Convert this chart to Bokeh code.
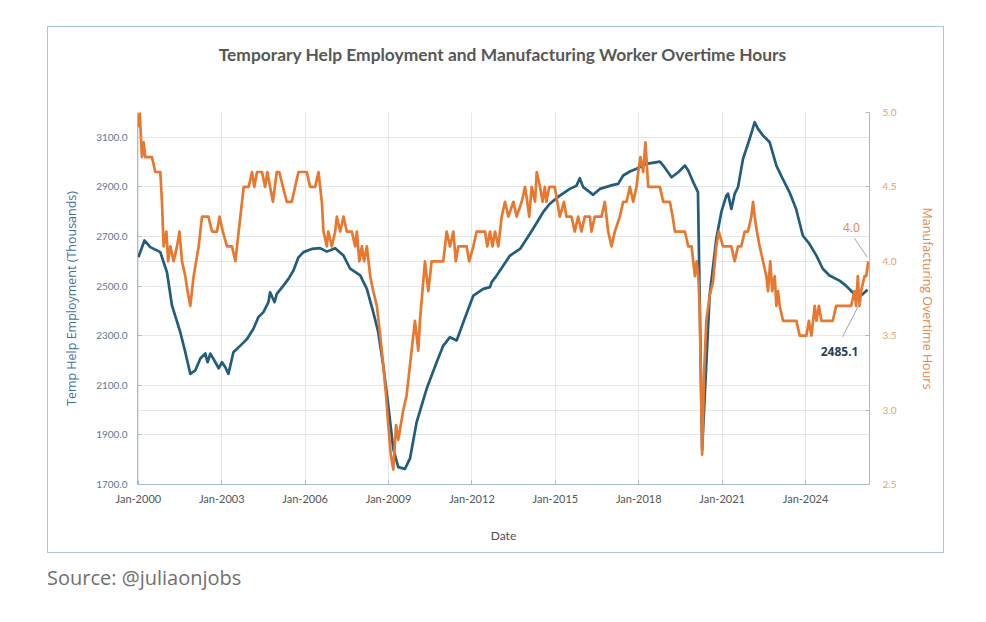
from bokeh.plotting import figure
from bokeh.models import (Range1d, LinearAxis, FixedTicker, NumeralTickFormatter, Grid,
                          Label, Div, Spacer)
from bokeh.layouts import column, row
from bokeh.embed import file_html
from bokeh.resources import INLINE

# ---------------- data ----------------
th_year = [2000.0, 2000.22, 2000.43, 2000.79, 2001.03, 2001.21, 2001.51, 2001.69, 2001.87, 2002.05,
           2002.23, 2002.41, 2002.49, 2002.59, 2002.77, 2002.89, 2003.01, 2003.13, 2003.24, 2003.42,
           2003.67, 2003.91, 2004.14, 2004.32, 2004.50, 2004.68, 2004.74, 2004.90, 2004.98, 2005.22,
           2005.40, 2005.58, 2005.76, 2005.94, 2006.24, 2006.54, 2006.78, 2007.08, 2007.38, 2007.62,
           2007.98, 2008.22, 2008.45, 2008.63, 2008.81, 2008.99, 2009.17, 2009.35, 2009.59, 2009.77,
           2010.01, 2010.37, 2010.73, 2010.97, 2011.21, 2011.45, 2011.69, 2012.05, 2012.41, 2012.65,
           2012.71, 2012.89, 2013.01, 2013.37, 2013.73, 2013.97, 2014.20, 2014.56, 2014.80, 2015.16,
           2015.52, 2015.76, 2015.88, 2016.00, 2016.24, 2016.36, 2016.60, 2017.08, 2017.26, 2017.44,
           2017.68, 2017.92, 2018.28, 2018.76, 2018.88, 2019.18, 2019.42, 2019.66, 2019.78, 2019.96,
           2020.13, 2020.28, 2020.55, 2020.79, 2020.97, 2021.15, 2021.21, 2021.33, 2021.45, 2021.57,
           2021.75, 2021.99, 2022.17, 2022.29, 2022.47, 2022.71, 2022.95, 2023.18, 2023.42, 2023.66,
           2023.90, 2024.14, 2024.39, 2024.62, 2024.86, 2025.22, 2025.45, 2025.69, 2025.93, 2026.23]
th_value = [2616, 2684, 2657, 2637, 2556, 2422, 2314, 2233, 2146, 2160,
            2208, 2228, 2193, 2228, 2193, 2168, 2193, 2173, 2146, 2233,
            2260, 2287, 2328, 2375, 2395, 2435, 2475, 2435, 2469, 2502,
            2529, 2563, 2616, 2637, 2650, 2653, 2639, 2653, 2623, 2570,
            2543, 2489, 2395, 2314, 2180, 2019, 1844, 1770, 1763, 1804,
            1951, 2086, 2193, 2260, 2294, 2281, 2354, 2462, 2489, 2496,
            2516, 2543, 2563, 2623, 2650, 2691, 2731, 2798, 2832, 2865,
            2892, 2905, 2935, 2899, 2879, 2868, 2892, 2908, 2912, 2946,
            2962, 2973, 2993, 3002, 2986, 2939, 2959, 2986, 2966, 2919,
            2879, 1840, 2462, 2691, 2798, 2865, 2873, 2811, 2872, 2899,
            3013, 3094, 3161, 3134, 3107, 3080, 2986, 2932, 2879, 2811,
            2704, 2670, 2623, 2570, 2543, 2522, 2502, 2475, 2455, 2485.1]

ot_year = [2000.00, 2000.05, 2000.13, 2000.19, 2000.25, 2000.49, 2000.61, 2000.79, 2000.85, 2000.91,
           2001.01, 2001.07, 2001.15, 2001.27, 2001.39, 2001.48, 2001.57, 2001.69, 2001.77, 2001.87,
           2001.99, 2002.17, 2002.29, 2002.52, 2002.65, 2002.83, 2002.92, 2003.04, 2003.19, 2003.37,
           2003.49, 2003.67, 2003.79, 2003.97, 2004.09, 2004.17, 2004.27, 2004.45, 2004.56, 2004.64,
           2004.74, 2004.84, 2004.98, 2005.07, 2005.20, 2005.34, 2005.52, 2005.64, 2005.76, 2006.06,
           2006.18, 2006.36, 2006.48, 2006.60, 2006.66, 2006.78, 2006.83, 2006.96, 2007.08, 2007.14,
           2007.26, 2007.38, 2007.50, 2007.68, 2007.80, 2007.86, 2007.95, 2008.04, 2008.12, 2008.22,
           2008.34, 2008.45, 2008.58, 2008.70, 2008.81, 2008.91, 2008.99, 2009.08, 2009.17, 2009.27,
           2009.35, 2009.44, 2009.53, 2009.65, 2009.77, 2009.95, 2010.07, 2010.13, 2010.31, 2010.43,
           2010.55, 2010.97, 2011.09, 2011.21, 2011.33, 2011.42, 2011.51, 2011.81, 2011.90, 2012.05,
           2012.17, 2012.47, 2012.55, 2012.65, 2012.74, 2012.83, 2012.95, 2013.07, 2013.19, 2013.31,
           2013.49, 2013.61, 2013.79, 2013.91, 2013.99, 2014.06, 2014.15, 2014.27, 2014.33, 2014.45,
           2014.54, 2014.62, 2014.68, 2014.78, 2014.98, 2015.16, 2015.31, 2015.40, 2015.58, 2015.70,
           2015.82, 2015.94, 2016.06, 2016.24, 2016.30, 2016.42, 2016.66, 2016.78, 2016.90, 2017.02,
           2017.14, 2017.32, 2017.44, 2017.56, 2017.68, 2017.80, 2017.92, 2017.98, 2018.06, 2018.16,
           2018.24, 2018.34, 2018.76, 2018.88, 2019.12, 2019.22, 2019.30, 2019.66, 2019.78, 2019.90,
           2019.96, 2020.02, 2020.08, 2020.14, 2020.19, 2020.28, 2020.35, 2020.43, 2020.55, 2020.67,
           2020.79, 2020.88, 2021.03, 2021.33, 2021.45, 2021.57, 2021.69, 2021.81, 2021.93, 2022.05,
           2022.11, 2022.17, 2022.25, 2022.35, 2022.47, 2022.59, 2022.65, 2022.73, 2022.80, 2022.89,
           2022.95, 2023.01, 2023.07, 2023.19, 2023.67, 2023.79, 2024.03, 2024.12, 2024.21, 2024.33,
           2024.39, 2024.48, 2024.57, 2024.98, 2025.10, 2025.64, 2025.76, 2025.82, 2025.88, 2025.94,
           2026.00, 2026.12, 2026.18, 2026.26]
ot_value = [4.9, 5.0, 4.7, 4.8, 4.7, 4.7, 4.6, 4.6, 4.4, 4.1,
            4.2, 4.0, 4.1, 4.0, 4.1, 4.2, 4.0, 3.9, 3.8, 3.7,
            3.9, 4.1, 4.3, 4.3, 4.2, 4.2, 4.3, 4.2, 4.1, 4.1,
            4.0, 4.3, 4.5, 4.5, 4.6, 4.5, 4.6, 4.6, 4.5, 4.6,
            4.5, 4.4, 4.6, 4.6, 4.5, 4.4, 4.4, 4.5, 4.6, 4.6,
            4.5, 4.5, 4.6, 4.4, 4.2, 4.1, 4.2, 4.1, 4.2, 4.3,
            4.2, 4.3, 4.2, 4.2, 4.1, 4.2, 4.0, 4.1, 4.0, 4.1,
            3.9, 3.8, 3.7, 3.5, 3.3, 3.1, 2.9, 2.7, 2.6, 2.9,
            2.8, 2.9, 3.0, 3.1, 3.3, 3.6, 3.4, 3.6, 4.0, 3.8,
            4.0, 4.0, 4.2, 4.1, 4.2, 4.0, 4.1, 4.1, 4.0, 4.1,
            4.2, 4.2, 4.1, 4.2, 4.1, 4.2, 4.1, 4.3, 4.4, 4.3,
            4.4, 4.3, 4.4, 4.5, 4.4, 4.3, 4.5, 4.4, 4.6, 4.5,
            4.4, 4.5, 4.4, 4.5, 4.5, 4.3, 4.4, 4.3, 4.3, 4.2,
            4.3, 4.2, 4.3, 4.3, 4.2, 4.3, 4.3, 4.4, 4.2, 4.1,
            4.2, 4.3, 4.4, 4.4, 4.5, 4.4, 4.5, 4.6, 4.7, 4.6,
            4.8, 4.5, 4.5, 4.4, 4.4, 4.3, 4.2, 4.2, 4.1, 4.1,
            4.0, 3.9, 4.0, 3.9, 3.7, 2.7, 3.25, 3.6, 3.77, 3.86,
            4.1, 4.2, 4.1, 4.1, 4.0, 4.1, 4.1, 4.2, 4.2, 4.3,
            4.4, 4.3, 4.2, 4.1, 4.0, 3.9, 3.8, 4.0, 3.8, 3.9,
            3.7, 3.8, 3.7, 3.6, 3.6, 3.5, 3.5, 3.6, 3.5, 3.7,
            3.6, 3.7, 3.6, 3.6, 3.7, 3.7, 3.8, 3.7, 3.9, 3.7,
            3.8, 3.9, 3.9, 4.0]

x_tick_years = [2000, 2003, 2006, 2009, 2012, 2015, 2018, 2021, 2024]
x_tick_labels = ["Jan-2000", "Jan-2003", "Jan-2006", "Jan-2009", "Jan-2012",
                 "Jan-2015", "Jan-2018", "Jan-2021", "Jan-2024"]
left_ticks = [1700, 1900, 2100, 2300, 2500, 2700, 2900, 3100]
right_ticks = [2.5, 3.0, 3.5, 4.0, 4.5, 5.0]

title_text = "Temporary Help Employment and Manufacturing Worker Overtime Hours"
source_text = "Source: @juliaonjobs"

# ---------------- style ----------------
BLUE = "#225d7e"
ORANGE = "#e8782f"
TICKFONT = "Lato"
X0, X1 = 1999.97, 2026.3
Y0, Y1 = 1700, 3200
R0, R1 = 2.5, 5.0

CARD_W = 895            # inner width of the bordered card
DIV_MARGIN = 5          # Bokeh's default margin around a Div
TITLE_H = 56
W, H = CARD_W, 469
BL, BR, BT, BB = 89, 74, 29, 68
FW, FH = W - BL - BR, H - BT - BB

p = figure(width=W, height=H, output_backend="svg", toolbar_location=None,
           x_range=Range1d(X0, X1), y_range=Range1d(Y0, Y1),
           min_border_left=BL, min_border_right=BR, min_border_top=BT, min_border_bottom=BB,
           background_fill_color="white", border_fill_color="white", outline_line_color=None)
p.extra_y_ranges = {"right": Range1d(R0, R1)}

# grids
p.xgrid.ticker = FixedTicker(ticks=x_tick_years)
p.xgrid.grid_line_color = "#e3e8ec"
p.ygrid.grid_line_color = None
grid_vals = sorted(set(left_ticks + [Y0 + (t - R0) * (Y1 - Y0) / (R1 - R0) for t in right_ticks]))
p.add_layout(Grid(dimension=1, ticker=FixedTicker(ticks=grid_vals), grid_line_color="#e3e8ec"))

# x axis
xa = p.xaxis[0]
xa.ticker = FixedTicker(ticks=x_tick_years)
xa.major_label_overrides = dict(zip(x_tick_years, x_tick_labels))
xa.axis_label = "Date"
xa.axis_label_text_font = TICKFONT
xa.axis_label_text_font_size = "12px"
xa.axis_label_text_font_style = "normal"
xa.axis_label_text_color = "#505050"
xa.axis_label_standoff = 20
xa.major_label_text_font = TICKFONT
xa.major_label_text_font_size = "11px"
xa.major_label_text_color = "#555555"
xa.major_label_standoff = 7
xa.axis_line_color = "#a6bccb"
xa.major_tick_line_color = "#a6bccb"
xa.major_tick_in = 4
xa.major_tick_out = 0
xa.minor_tick_line_color = None

# left axis
ya = p.yaxis[0]
ya.ticker = FixedTicker(ticks=left_ticks)
ya.formatter = NumeralTickFormatter(format="0.0")
ya.axis_label = "Temp Help Employment (Thousands)"
ya.axis_label_text_font = "Open Sans"
ya.axis_label_text_font_size = "12.5px"
ya.axis_label_text_font_style = "normal"
ya.axis_label_text_color = "#3f7394"
ya.axis_label_standoff = 13
ya.major_label_text_font = TICKFONT
ya.major_label_text_font_size = "10px"
ya.major_label_text_color = "#5b7a91"
ya.major_label_standoff = 10
ya.axis_line_color = "#a6bccb"
ya.major_tick_line_color = "#a6bccb"
ya.major_tick_in = 4
ya.major_tick_out = 0
ya.minor_tick_line_color = None

# right axis
ra = LinearAxis(y_range_name="right", ticker=FixedTicker(ticks=right_ticks),
                formatter=NumeralTickFormatter(format="0.0"))
ra.axis_label = "Manufacturing Overtime Hours"
ra.axis_label_text_font = "Open Sans"
ra.axis_label_text_font_size = "12.5px"
ra.axis_label_text_font_style = "normal"
ra.axis_label_text_color = "#dd8a52"
ra.axis_label_standoff = 20
ra.major_label_text_font = TICKFONT
ra.major_label_text_font_size = "10px"
ra.major_label_text_color = "#e3a173"
ra.major_label_standoff = 13
ra.axis_line_color = "#a6bccb"
ra.major_tick_line_color = "#a6bccb"
ra.major_tick_in = 4
ra.major_tick_out = 0
ra.minor_tick_line_color = None
p.add_layout(ra, "right")

# lines (secondary-axis series drawn on top, as in the reference)
p.line(th_year, th_value, line_color=BLUE, line_width=2.7, line_join="round")
p.line(ot_year, ot_value, y_range_name="right", line_color=ORANGE, line_width=2.7,
       line_join="round")

# end annotations (pixel offsets converted to data units)
ppx = FW / (X1 - X0)          # px per year
ppl = FH / (Y1 - Y0)          # px per left unit
ppr = FH / (R1 - R0)          # px per right unit

lx, lo = ot_year[-1], ot_value[-1]
p.segment(x0=[lx - 1 / ppx], y0=[lo + 4 / ppr], x1=[lx - 14 / ppx], y1=[lo + 23 / ppr],
          y_range_name="right", line_color="#a3a3a3", line_width=1)
p.add_layout(Label(x=lx, y=lo, y_range_name="right", text=f"{lo:.1f}", x_offset=-17, y_offset=34,
                   text_align="center", text_baseline="middle", text_font="Open Sans",
                   text_font_size="12px", text_color="#e8873f"))

bx, bv = th_year[-1], th_value[-1]
p.segment(x0=[bx - 6 / ppx], y0=[bv - 10 / ppl], x1=[bx - 25 / ppx], y1=[bv - 47 / ppl],
          line_color="#a3a3a3", line_width=1)
p.add_layout(Label(x=bx, y=bv, text=f"{bv:.1f}", x_offset=-28, y_offset=-62,
                   text_align="center", text_baseline="middle", text_font="Open Sans",
                   text_font_size="12px", text_font_style="bold", text_color="#2b3f52"))

tdh = TITLE_H - 2 * DIV_MARGIN
title_div = Div(text=f'<span style="position:relative;left:7px">{title_text}</span>',
                width=CARD_W - 2 * DIV_MARGIN, height=tdh,
                styles={"font-family": "Lato", "font-weight": "bold", "font-size": "17.4px",
                        "color": "#575757", "text-align": "center",
                        "line-height": f"{tdh}px", "white-space": "nowrap"})

card = column(title_div, p, styles={"border": "1px solid #a9c7cc"})

src = Div(text=source_text, width=400, height=30,
          styles={"font-family": "Open Sans", "font-size": "20px", "color": "#707070"})

layout = column(Spacer(height=26),
                row(Spacer(width=47), card),
                Spacer(height=6),
                row(Spacer(width=42), src))

open("out.html", "w").write(file_html(layout, INLINE))
